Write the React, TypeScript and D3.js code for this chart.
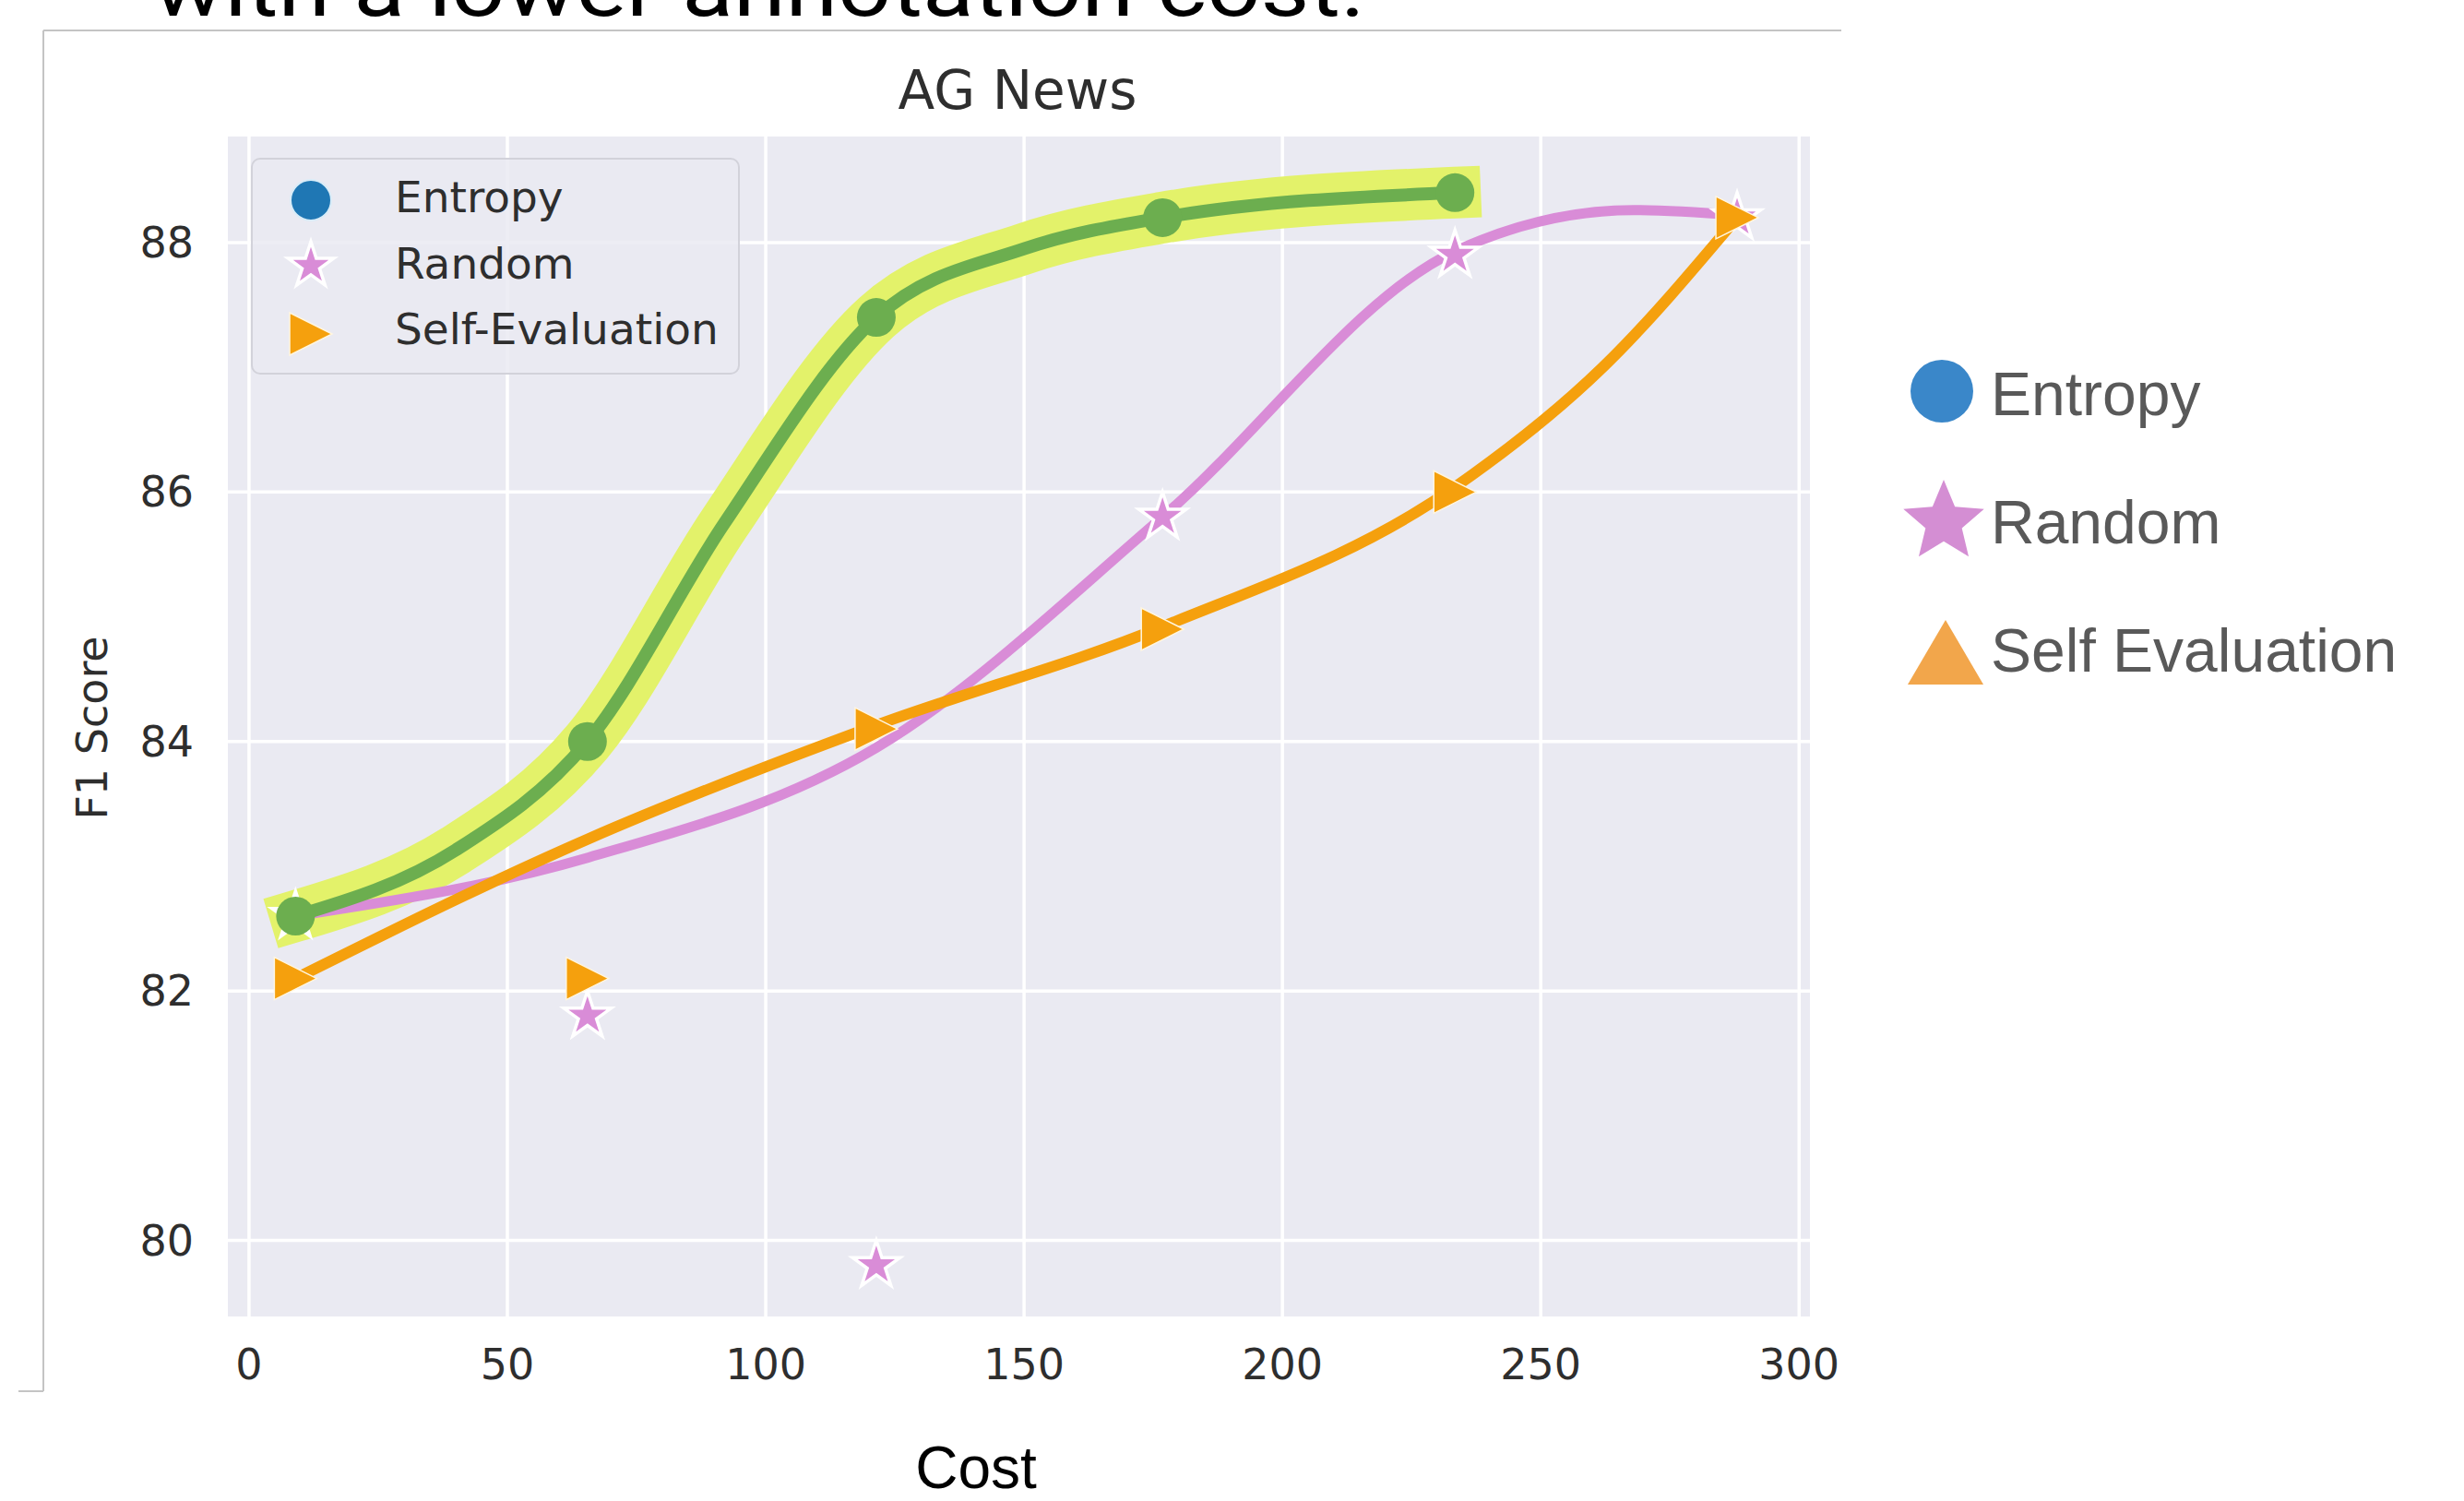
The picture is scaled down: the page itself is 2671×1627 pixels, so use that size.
import React, { useEffect } from "react";
import * as d3 from "d3";

// ---------------- data ----------------
// marker positions
const costs = [9, 65.5, 121.4, 176.8, 233.4, 288];
const entropyCost = [9, 65.5, 121.4, 176.8, 233.4];
const entropyF1 = [82.6, 84.0, 87.4, 88.2, 88.4];
const randomF1 = [82.6, 81.8, 79.8, 85.8, 87.9, 88.2];
const selfEvalF1 = [82.1, 82.1, 84.1, 84.9, 86.0, 88.2];
// smoothed curves
const entropyCurveCost = [9, 40, 65.5, 92, 121.4, 150, 176.8, 233.4];
const entropyCurveF1 = [82.6, 83.13, 84.0, 85.75, 87.4, 87.95, 88.2, 88.4];
const randomCurveCost = [9, 65.7, 121.4, 176.8, 233.4, 268, 288];
const randomCurveF1 = [82.6, 83.07, 83.95, 85.8, 87.93, 88.26, 88.22];
const selfCurveCost = [9, 65.7, 121.4, 176.8, 233.4, 262, 288];
const selfCurveF1 = [82.1, 83.22, 84.13, 84.92, 86.04, 87.0, 88.2];
const xTicks = [0, 50, 100, 150, 200, 250, 300];
const yTicks = [80, 82, 84, 86, 88];
const legendLabels = ["Entropy", "Random", "Self-Evaluation"];
const sideLegendLabels = ["Entropy", "Random", "Self Evaluation"];
const xLimits = [-4.1, 302.1];
const yLimits = [79.39, 88.85];

// ---------------- helpers ----------------
function starPath(cx: number, cy: number, R: number, ratio = 0.381966) {
  const r = R * ratio;
  const pts: string[] = [];
  for (let i = 0; i < 10; i++) {
    const ang = -Math.PI / 2 + (i * Math.PI) / 5;
    const rad = i % 2 === 0 ? R : r;
    pts.push(`${cx + rad * Math.cos(ang)},${cy + rad * Math.sin(ang)}`);
  }
  return "M" + pts.join("L") + "Z";
}

function triRightPath(cx: number, cy: number, s: number) {
  return `M${cx + s},${cy}L${cx - s},${cy - s}L${cx - s},${cy + s}Z`;
}

function triUpPath(cx: number, cy: number, w: number, hgt: number) {
  return `M${cx},${cy - hgt / 2}L${cx + w / 2},${cy + hgt / 2}L${cx - w / 2},${cy + hgt / 2}Z`;
}

function zip(xs: number[], ys: number[]) {
  return xs.map((v, i) => [v, ys[i]] as [number, number]);
}

// ---------------- component ----------------
export default function App() {
  useEffect(() => {
    document.body.style.margin = "0";
    document.body.style.background = "#ffffff";
  }, []);

  const W = 2671;
  const H = 1627;
  const plot = { left: 247, right: 1962, top: 148, bottom: 1427 };
  const x = d3.scaleLinear().domain(xLimits).range([plot.left, plot.right]);
  const y = d3.scaleLinear().domain(yLimits).range([plot.bottom, plot.top]);
  const line = d3
    .line<[number, number]>()
    .x((d) => x(d[0]))
    .y((d) => y(d[1]))
    .curve(d3.curveMonotoneX);

  const entropyCurve = zip(entropyCurveCost, entropyCurveF1);
  const randomCurve = zip(randomCurveCost, randomCurveF1);
  const selfCurve = zip(selfCurveCost, selfCurveF1);

  const green = "#6cae4f";
  const highlight = "#e3f26a";
  const pink = "#d98cd7";
  const orange = "#f5a00d";
  const mplFont = "DejaVu Sans, sans-serif";
  const slideFont = "Liberation Sans, Arial, sans-serif";
  const textColor = "#2e2e2e";

  return (
    <svg
      width={W}
      height={H}
      viewBox={`0 0 ${W} ${H}`}
      style={{ position: "absolute", left: 0, top: 0, background: "#fff" }}
    >
      <rect x={0} y={0} width={W} height={H} fill="#ffffff" />

      {/* cropped slide text at top */}
      <text
        x={166}
        y={17}
        fontFamily="Roboto, sans-serif"
        fontSize={88}
        fill="#000"
        textLength={1314}
        lengthAdjust="spacingAndGlyphs"
      >
        with a lower annotation cost.
      </text>

      {/* image frame */}
      <line x1={47} y1={33} x2={1996} y2={33} stroke="#c4c4c4" strokeWidth={2} />
      <line x1={47} y1={33} x2={47} y2={1508} stroke="#c4c4c4" strokeWidth={2} />
      <line x1={20} y1={1508} x2={47} y2={1508} stroke="#c4c4c4" strokeWidth={2} />

      {/* plot background */}
      <rect
        x={plot.left}
        y={plot.top}
        width={plot.right - plot.left}
        height={plot.bottom - plot.top}
        fill="#eaeaf2"
      />
      {xTicks.map((t) => (
        <line key={"gx" + t} x1={x(t)} x2={x(t)} y1={plot.top} y2={plot.bottom} stroke="#ffffff" strokeWidth={3.5} />
      ))}
      {yTicks.map((t) => (
        <line key={"gy" + t} x1={plot.left} x2={plot.right} y1={y(t)} y2={y(t)} stroke="#ffffff" strokeWidth={3.5} />
      ))}

      {/* highlight band for entropy */}
      <path d={line(entropyCurve) || ""} fill="none" stroke={highlight} strokeWidth={56} strokeLinecap="square" strokeLinejoin="round" />

      {/* Random */}
      <path d={line(randomCurve) || ""} fill="none" stroke={pink} strokeWidth={11} strokeLinecap="round" />
      {costs.map((c, i) => (
        <path key={"rs" + i} d={starPath(x(c), y(randomF1[i]), 27)} fill={pink} stroke="#ffffff" strokeWidth={3.5} strokeLinejoin="miter" />
      ))}

      {/* Self-Evaluation */}
      <path d={line(selfCurve) || ""} fill="none" stroke={orange} strokeWidth={12} strokeLinecap="round" />
      {costs.map((c, i) => (
        <path key={"st" + i} d={triRightPath(x(c), y(selfEvalF1[i]), 23)} fill={orange} stroke="#fff6e0" strokeWidth={1.5} />
      ))}

      {/* Entropy */}
      <path d={line(entropyCurve) || ""} fill="none" stroke={green} strokeWidth={14} strokeLinecap="round" />
      {entropyCost.map((c, i) => (
        <circle key={"ec" + i} cx={x(c)} cy={y(entropyF1[i])} r={21} fill={green} />
      ))}

      {/* title */}
      <text x={1103} y={118} textAnchor="middle" fontFamily={mplFont} fontSize={58} fill={textColor}>
        AG News
      </text>

      {/* tick labels */}
      {xTicks.map((t) => (
        <text key={"tx" + t} x={x(t)} y={1495} textAnchor="middle" fontFamily={mplFont} fontSize={46} fill={textColor}>
          {t}
        </text>
      ))}
      {yTicks.map((t) => (
        <text key={"ty" + t} x={210} y={y(t)} textAnchor="end" dominantBaseline="central" fontFamily={mplFont} fontSize={46} fill={textColor}>
          {t}
        </text>
      ))}
      <text
        x={100}
        y={789}
        transform="rotate(-90 100 789)"
        textAnchor="middle"
        dominantBaseline="central"
        fontFamily={mplFont}
        fontSize={46}
        fill={textColor}
      >
        F1 Score
      </text>

      {/* inner legend */}
      <rect x={273} y={172} width={528} height={233} rx={9} fill="#eaeaf2" fillOpacity={0.85} stroke="#d2d2da" strokeWidth={2} />
      <circle cx={337} cy={217} r={22} fill="#1f77b4" stroke="#d8ecf8" strokeWidth={2} />
      <path d={starPath(337, 288, 26)} fill={pink} stroke="#ffffff" strokeWidth={3.5} />
      <path d={triRightPath(337, 362, 23)} fill={orange} stroke="#fff6e0" strokeWidth={1.5} />
      {legendLabels.map((l, i) => (
        <text key={"ll" + i} x={428} y={230 + i * 71.5} fontFamily={mplFont} fontSize={47} fill={textColor}>
          {l}
        </text>
      ))}

      {/* x axis title (slide text) */}
      <text x={1058} y={1613} textAnchor="middle" fontFamily={slideFont} fontSize={64} fill="#000">
        Cost
      </text>

      {/* side legend */}
      <circle cx={2105} cy={424} r={34} fill="#3a87c9" />
      <path d={starPath(2107, 566, 46, 0.45)} fill="#d48ed3" />
      <path d={triUpPath(2109, 707, 82, 70)} fill="#f2a64b" />
      {sideLegendLabels.map((l, i) => (
        <text key={"sl" + i} x={2158} y={450 + i * 139} fontFamily={slideFont} fontSize={66} fill="#595959">
          {l}
        </text>
      ))}
    </svg>
  );
}
